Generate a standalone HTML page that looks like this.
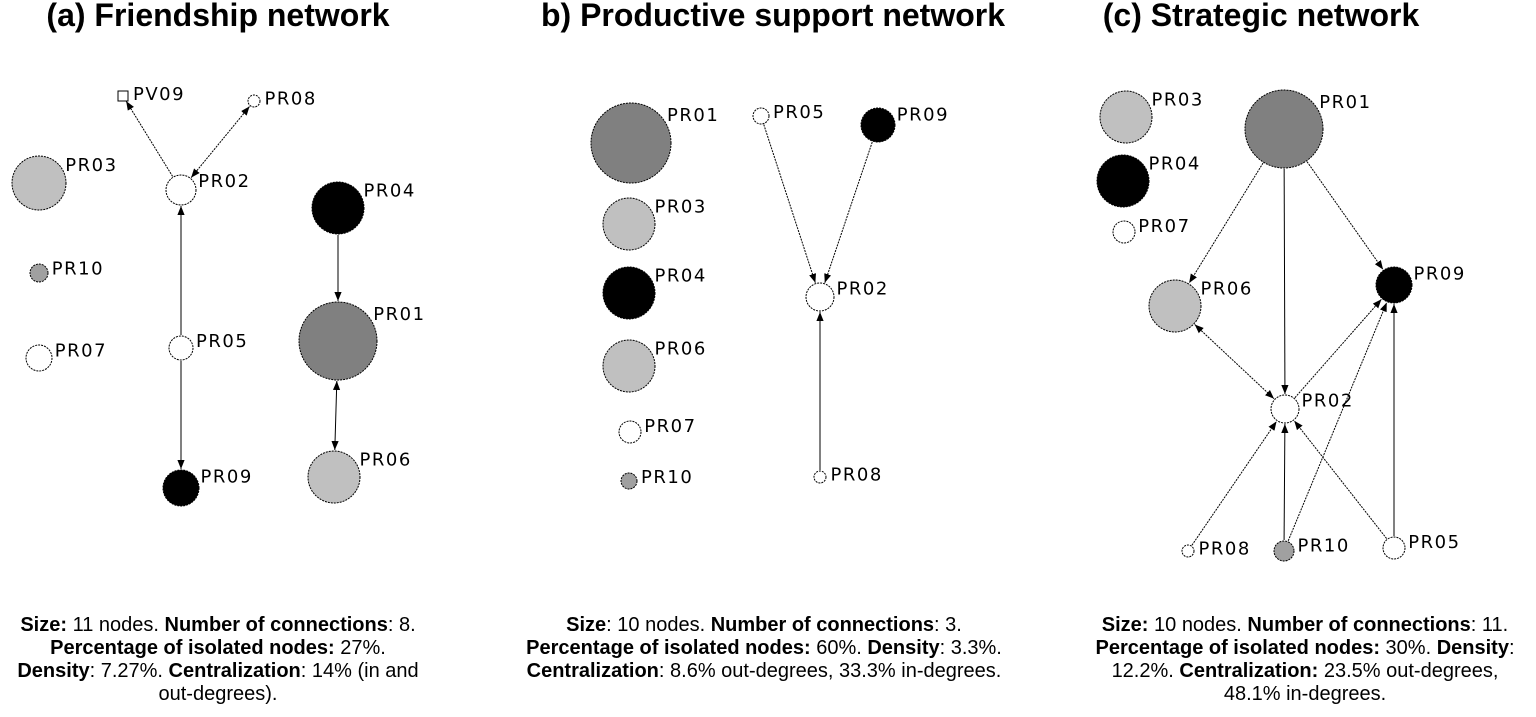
<!DOCTYPE html>
<html><head><meta charset="utf-8"><style>
body{margin:0;background:#fff;width:1536px;height:717px;overflow:hidden;font-family:"Liberation Sans",sans-serif}
.t{position:absolute;font-weight:bold;font-size:32px;white-space:nowrap;transform:translateX(-50%);top:-3px}
.cap{position:absolute;font-size:20px;line-height:23px;text-align:center;white-space:nowrap;transform:translateX(-50%);top:614px}
svg{position:absolute;left:0;top:0}
</style></head><body>
<div class="t" style="left:218px">(a) Friendship network</div>
<div class="t" style="left:773px">b) Productive support network</div>
<div class="t" style="left:1261px">(c) Strategic network</div>
<svg id="g" width="1536" height="717">
<defs><marker id="ar" viewBox="0 0 10 10" refX="10" refY="5" markerWidth="9" markerHeight="9" orient="auto-start-reverse" markerUnits="userSpaceOnUse"><path d="M0,1L10,5L0,9z" fill="#000"/></marker></defs>
</svg>
<div class="cap" style="left:218px"><b>Size:</b> 11 nodes. <b>Number of connections</b>: 8.<br><b>Percentage of isolated nodes: </b>27%.<br><b>Density</b>: 7.27%. <b>Centralization</b>: 14% (in and<br>out-degrees).</div>
<div class="cap" style="left:764px"><b>Size</b>: 10 nodes. <b>Number of connections</b>: 3.<br><b>Percentage of isolated nodes:</b> 60%. <b>Density</b>: 3.3%.<br><b>Centralization</b>: 8.6% out-degrees, 33.3% in-degrees.</div>
<div class="cap" style="left:1305px"><b>Size:</b> 10 nodes. <b>Number of connections</b>: 11.<br><b>Percentage of isolated nodes:</b> 30%. <b>Density</b>:<br>12.2%. <b>Centralization:</b> 23.5% out-degrees,<br>48.1% in-degrees.</div>
<script>
const nodesA=[["PV09",123,96,5,"#fff","sq"],["PR08",254,101,6,"#fff"],["PR03",39,183,27,"#c0c0c0"],["PR02",181,190,15,"#fff"],["PR04",338,208,26,"#000"],["PR10",39,273,9,"#a0a0a0"],["PR01",338,341,39,"#808080"],["PR07",39,358,13,"#fff"],["PR05",181,348,12,"#fff"],["PR09",181,488,18,"#000"],["PR06",334,477,26,"#c0c0c0"]];
const edgesA=[["PR02","PV09",0],["PR02","PR08",1],["PR05","PR02",0],["PR05","PR09",0],["PR04","PR01",0],["PR01","PR06",1]];
const nodesB=[["PR01",631,143,40,"#808080"],["PR05",761,116,8,"#fff"],["PR09",878,125,17,"#000"],["PR03",629,224,26,"#c0c0c0"],["PR04",629,293,26,"#000"],["PR02",820,297,14,"#fff"],["PR06",629,366,26,"#c0c0c0"],["PR07",630,432,11,"#fff"],["PR10",629,481,8,"#a0a0a0"],["PR08",820,477,6,"#fff"]];
const edgesB=[["PR05","PR02",0],["PR09","PR02",0],["PR08","PR02",0]];
const nodesC=[["PR03",1126,117,26,"#c0c0c0"],["PR01",1284,129,39,"#808080"],["PR04",1123,181,26,"#000"],["PR07",1124,232,11,"#fff"],["PR06",1175,306,26,"#c0c0c0"],["PR09",1394,285,18,"#000"],["PR02",1285,409,14,"#fff"],["PR08",1188,551,6,"#fff"],["PR10",1284,551,10,"#a0a0a0"],["PR05",1394,548,11,"#fff"]];
const edgesC=[["PR01","PR06",0],["PR01","PR02",0],["PR01","PR09",0],["PR06","PR02",1],["PR02","PR09",0],["PR10","PR09",0],["PR05","PR09",0],["PR08","PR02",0],["PR10","PR02",0],["PR05","PR02",0]];
const svg=document.getElementById('g');const NS="http://www.w3.org/2000/svg";
function draw(nodes,edges,p){
 const m={};nodes.forEach(n=>m[n[0]]=n);
 edges.forEach(e=>{const a=m[e[0]],b=m[e[1]];const dx=b[1]-a[1],dy=b[2]-a[2],d=Math.hypot(dx,dy);const ux=dx/d,uy=dy/d;
  const l=document.createElementNS(NS,'line');
  
  
  l.setAttribute('x1',a[1]+ux*(a[3]+1));l.setAttribute('y1',a[2]+uy*(a[3]+1));
  l.setAttribute('x2',b[1]-ux*(b[3]+1));l.setAttribute('y2',b[2]-uy*(b[3]+1));
  l.setAttribute('stroke','#000');l.setAttribute('stroke-width','1');
  if(Math.abs(dx)>6)l.setAttribute('stroke-dasharray','2,1');
  l.setAttribute('marker-end','url(#ar)');if(e[2])l.setAttribute('marker-start','url(#ar)');
  svg.appendChild(l);});
 nodes.forEach(n=>{let s;
  if(n[5]=="sq"){s=document.createElementNS(NS,'rect');s.setAttribute('x',n[1]-n[3]);s.setAttribute('y',n[2]-n[3]);s.setAttribute('width',2*n[3]);s.setAttribute('height',2*n[3]);}
  else{s=document.createElementNS(NS,'circle');s.setAttribute('cx',n[1]);s.setAttribute('cy',n[2]);s.setAttribute('r',n[3]);s.setAttribute('stroke-dasharray','2,1');}
  
  
  s.setAttribute('fill',n[4]);s.setAttribute('stroke','#000');s.setAttribute('stroke-width','1');svg.appendChild(s);
  const t=document.createElementNS(NS,'text');
  
  
  const k=Math.max(n[3]*0.75,4);
  t.setAttribute('x',n[1]+k+6);t.setAttribute('y',n[2]-k+8);t.setAttribute('font-size','18');
  t.setAttribute('letter-spacing','1.5');
  t.setAttribute('font-family','DejaVu Sans, sans-serif');t.textContent=n[0];svg.appendChild(t);});
}
draw(nodesA,edgesA,'a');draw(nodesB,edgesB,'b');draw(nodesC,edgesC,'c');
</script>
</body></html>
